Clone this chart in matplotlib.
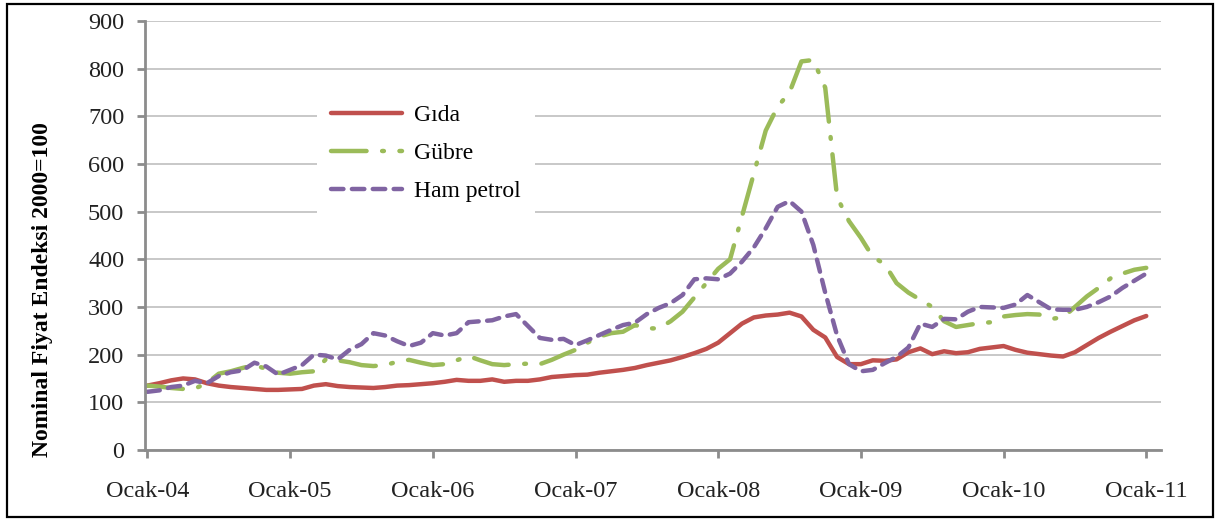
#!/usr/bin/env python
# -*- coding: utf-8 -*-

"""
Nominal price indices (2000=100) for food, fertiliser and crude oil, 2004-2011
"""

import matplotlib
matplotlib.use("Agg")
import matplotlib.pyplot as plt
from matplotlib.patches import Rectangle

plt.rcParams['font.family'] = ['Liberation Serif', 'DejaVu Serif']

# monthly values, Ocak-04 ... Ocak-11
gida = [135, 140, 146, 150, 148, 140, 135, 132, 130, 128, 126, 126,
        127, 128, 135, 138, 134, 132, 131, 130, 132, 135, 136, 138,
        140, 143, 147, 145, 145, 148, 143, 145, 145, 148, 153, 155,
        157, 158, 162, 165, 168, 172, 178, 183, 188, 195, 203, 212,
        225, 245, 265, 278, 282, 284, 288, 280, 252, 236, 195, 180,
        180, 188, 187, 190, 205, 213, 201, 207, 203, 205, 212, 215,
        218, 210, 204, 201, 198, 196, 205, 220, 235, 248, 260, 272,
        281]
gubre = [135, 133, 130, 128, 129, 140, 160, 165, 172, 178, 170, 162,
         160, 163, 165, 190, 188, 184, 178, 176, 178, 185, 189, 183,
         178, 180, 188, 197, 188, 180, 178, 180, 181, 180, 189, 200,
         210, 225, 238, 245, 248, 262, 255, 255, 270, 290, 320, 350,
         380, 400, 490, 580, 670, 720, 750, 815, 818, 760, 530, 480,
         445, 405, 390, 350, 330, 315, 300, 270, 258, 262, 266, 268,
         280, 283, 285, 284, 275, 278, 300, 322, 340, 360, 370, 378,
         382]
ham_petrol = [122, 125, 132, 135, 145, 140, 155, 163, 167, 183, 175, 158,
              168, 178, 200, 198, 190, 210, 222, 245, 240, 228, 218, 225,
              245, 240, 245, 268, 270, 272, 280, 285, 260, 235, 231, 233,
              220, 230, 241, 252, 262, 267, 285, 298, 308, 325, 358, 360,
              358, 370, 395, 425, 465, 510, 522, 500, 430, 330, 240, 180,
              165, 168, 182, 195, 215, 265, 258, 275, 274, 290, 300, 299,
              298, 305, 325, 310, 295, 294, 294, 300, 310, 322, 340, 355,
              370]
tick_labels = ['Ocak-04', 'Ocak-05', 'Ocak-06', 'Ocak-07',
               'Ocak-08', 'Ocak-09', 'Ocak-10', 'Ocak-11']
y_ticks = [0, 100, 200, 300, 400, 500, 600, 700, 800, 900]


def main():
    fig = plt.figure(figsize=(12.22, 5.22), dpi=100)
    ax = fig.add_axes([0.1187, 0.138, 0.831, 0.822])

    months = list(range(len(gida)))
    ax.plot(months, gida, color='#C0504D', lw=3.2, label='Gıda',
            solid_capstyle='round', solid_joinstyle='round')
    ax.plot(months, gubre, color='#9BBB59', lw=3.2, label='Gübre',
            dashes=(8, 3.5, 0.4, 3.5), dash_capstyle='round')
    ax.plot(months, ham_petrol, color='#8064A2', lw=3.2, label='Ham petrol',
            dashes=(2.8, 1.9), dash_capstyle='round')

    ax.set_xlim(-0.2, 85.2)
    ax.set_ylim(0, 900)
    ax.set_xticks(range(0, 85, 12))
    ax.set_xticklabels(tick_labels)
    ax.set_yticks(y_ticks)

    ax.grid(axis='y', color='#C8C8C8', lw=1.4)
    ax.set_axisbelow(True)
    for side in ('top', 'right'):
        ax.spines[side].set_visible(False)
    for side in ('left', 'bottom'):
        ax.spines[side].set_color('#8C8C8C')
        ax.spines[side].set_linewidth(2)
    ax.tick_params(axis='both', colors='#8C8C8C', width=2, length=6,
                   labelsize=17.5, labelcolor='#222222')
    ax.tick_params(axis='x', pad=16)
    ax.tick_params(axis='y', pad=9)

    # the axis title sits lower than the middle of the axis in the original
    ax.set_ylabel('Nominal Fiyat Endeksi 2000=100', fontsize=17,
                  fontweight='bold')
    ax.yaxis.set_label_coords(-0.091, 0.373)

    leg = ax.legend(loc='upper left', bbox_to_anchor=(0.158, 0.865),
                    fontsize=17, handlelength=3.0, handletextpad=0.5,
                    labelspacing=0.7, frameon=True, fancybox=False,
                    borderpad=0.6)
    leg.get_frame().set_facecolor('white')
    leg.get_frame().set_edgecolor('none')
    leg.get_frame().set_alpha(1)

    # outer frame of the picture
    fig.patches.append(Rectangle((7 / 1222, 5 / 522), 1206 / 1222, 513 / 522,
                                 transform=fig.transFigure, fill=False,
                                 edgecolor='black', lw=1.6))

    fig.savefig('out.png', dpi=100)
    return 0


if __name__ == '__main__':
    main()
